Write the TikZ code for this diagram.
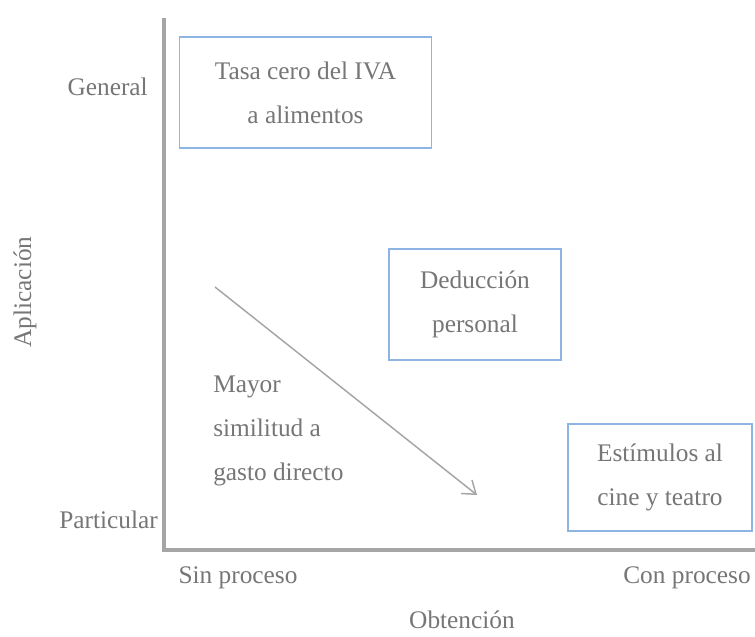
\documentclass[tikz,border=0pt]{standalone}
\usepackage{fontspec}
\setmainfont{Liberation Serif}
\usetikzlibrary{arrows.meta}
\definecolor{txtgray}{HTML}{767676}
\definecolor{axisgray}{HTML}{A5A5A5}
\definecolor{boxblue}{HTML}{8EB4E3}
\tikzset{box/.style={draw=boxblue, line width=1.1pt, align=center, text=txtgray, inner sep=0pt},
         lbl/.style={text=txtgray, inner sep=0pt},
         axis/.style={draw=axisgray, line width=2.4pt}}

\begin{document}
\begin{tikzpicture}[x=0.75pt,y=-0.75pt,font=\fontsize{19}{33}\selectfont]
                    \useasboundingbox (0,0) rectangle (755,636);
                    % ejes
                    \coordinate (ytop) at (164,18);
                    \coordinate (origen) at (164,550);
                    \coordinate (xend) at (755,550);
                    \draw[axis] (ytop) -- (origen) -- (xend);

                    % cuadros
                    \node[box,minimum width=189pt,minimum height=83pt] (iva) at (305.5,92.5) {Tasa cero del IVA\\a alimentos};
                    \node[box,minimum width=129pt,minimum height=83pt] (deduccion) at (475,304.5) {Deducción\\personal};
                    \node[box,minimum width=138pt,minimum height=80pt] (estimulos) at (660,477.5) {Estímulos al\\cine y teatro};

                    % flecha
                    \coordinate (fini) at (215,287);
                    \coordinate (ffin) at (477,495);
                    \draw[axisgray,line width=1.1pt,arrows={-Straight Barb[length=9pt,width=13pt]}] (fini) -- (ffin);
                    \node[lbl,align=left,anchor=west] (similitud) at (213,431) {Mayor\\similitud a\\gasto directo};

                    % etiquetas de los ejes
                    \node[lbl,anchor=east] (general) at (148,87) {General};
                    \node[lbl,anchor=east] (particular) at (158,520) {Particular};
                    \node[lbl] (sin) at (238,578) {Sin proceso};
                    \node[lbl] (con) at (687,578) {Con proceso};
                    \node[lbl] (obtencion) at (462,620) {Obtención};
                    \node[lbl,rotate=90] (aplicacion) at (25,292) {Aplicación};
                \end{tikzpicture}
\end{document}
